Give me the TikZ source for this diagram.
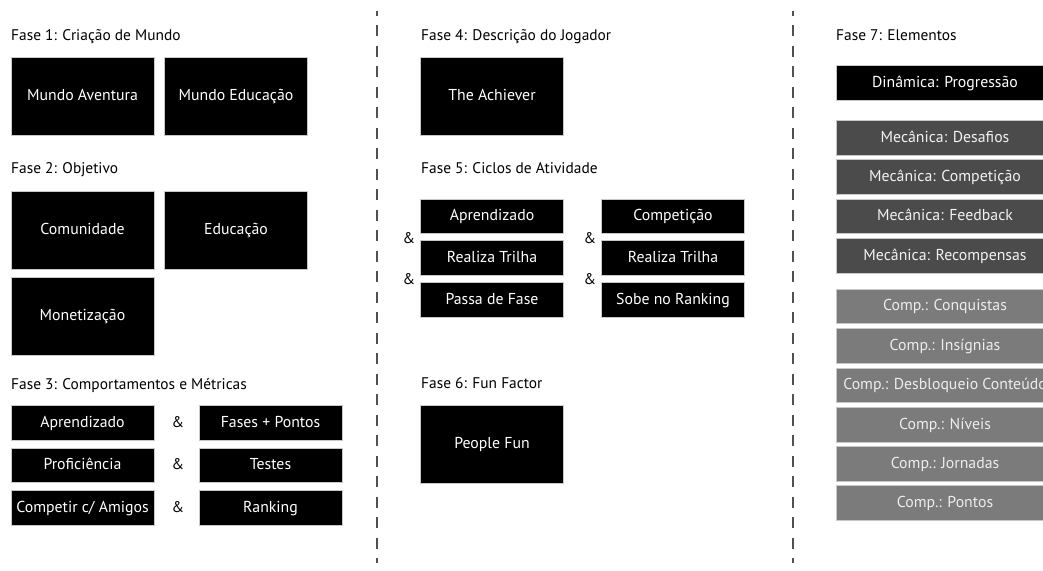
\documentclass[tikz,border=0pt]{standalone}
\usepackage{fontspec}
\setmainfont{PT Sans}
\definecolor{mecgray}{HTML}{4B4B4B}
\definecolor{compgray}{HTML}{7B7B7B}
\definecolor{edgegray}{HTML}{C8C8C8}
\definecolor{divgray}{HTML}{505050}
\tikzset{
  phase/.style={anchor=base west, inner sep=0pt, font=\fontsize{15.4}{18}\selectfont, text=black},
  blackbox/.style={fill=black, draw=edgegray, line width=0.7pt, text=white, inner sep=0pt,
    font=\fontsize{15.8}{18}\selectfont, minimum width=143pt, text height=11pt, text depth=3pt},
  bigbox/.style={blackbox, minimum height=78pt},
  slimbox/.style={blackbox, minimum height=34.5pt},
  mecbox/.style={slimbox, fill=mecgray, minimum width=218pt, text=white!95!black},
  compbox/.style={slimbox, fill=compgray, minimum width=218pt, text=white!93!black},
  dynbox/.style={slimbox, minimum width=218pt},
  amp/.style={inner sep=0pt, font=\fontsize{15.4}{18}\selectfont, text height=11pt, text depth=3pt},
  divider/.style={draw=divgray, line width=1.5pt, dash pattern=on 11pt off 9.5pt, dash phase=6.5pt}
}
\begin{document}
\begin{tikzpicture}[x=1pt,y=-1pt]
\useasboundingbox (0,0) rectangle (1043,570);

% column dividers
\coordinate (d1top) at (377,11);
\coordinate (d1bot) at (377,563);
\coordinate (d2top) at (793,11);
\coordinate (d2bot) at (793,563);
\draw[divider] (d1top) -- (d1bot);
\draw[divider] (d2top) -- (d2bot);

% Fase 1
\node[phase] (f1) at (11,40) {Fase 1: Criação de Mundo};
\node[bigbox] (aventura) at (82.5,96) {Mundo Aventura};
\node[bigbox] (educmundo) at (236,96) {Mundo Educação};

% Fase 2
\node[phase] (f2) at (11,173.5) {Fase 2: Objetivo};
\node[bigbox] (comunidade) at (82.5,230) {Comunidade};
\node[bigbox] (educacao) at (236,230) {Educação};
\node[bigbox] (monetizacao) at (82.5,316) {Monetização};

% Fase 3
\node[phase] (f3) at (11,389) {Fase 3: Comportamentos e Métricas};
\node[slimbox] (c1) at (82.5,423) {Aprendizado};
\node[slimbox] (c2) at (82.5,465.5) {Proficiência};
\node[slimbox] (c3) at (82.5,508) {Competir c/ Amigos};
\node[slimbox] (m1) at (270.5,423) {Fases + Pontos};
\node[slimbox] (m2) at (270.5,465.5) {Testes};
\node[slimbox] (m3) at (270.5,508) {Ranking};
\node[amp] (a31) at (178,423) {\&};
\node[amp] (a32) at (178,465.5) {\&};
\node[amp] (a33) at (178,508) {\&};

% Fase 4
\node[phase] (f4) at (421,40) {Fase 4: Descrição do Jogador};
\node[bigbox] (achiever) at (492,96) {The Achiever};

% Fase 5
\node[phase] (f5) at (421,173) {Fase 5: Ciclos de Atividade};
\node[slimbox] (l1) at (492,216.5) {Aprendizado};
\node[slimbox] (l2) at (492,258) {Realiza Trilha};
\node[slimbox] (l3) at (492,300) {Passa de Fase};
\node[slimbox] (r1) at (673,216.5) {Competição};
\node[slimbox] (r2) at (673,258) {Realiza Trilha};
\node[slimbox] (r3) at (673,300) {Sobe no Ranking};
\node[amp] (a51) at (409,239) {\&};
\node[amp] (a52) at (409,280) {\&};
\node[amp] (a53) at (590,239) {\&};
\node[amp] (a54) at (590,280) {\&};

% Fase 6
\node[phase] (f6) at (421,388) {Fase 6: Fun Factor};
\node[bigbox] (peoplefun) at (492,444.5) {People Fun};

% Fase 7
\node[phase] (f7) at (836,40) {Fase 7: Elementos};
\node[dynbox] (din) at (945,83) {Dinâmica: Progressão};
\node[mecbox] (mec1) at (945,138) {Mecânica: Desafios};
\node[mecbox] (mec2) at (945,177) {Mecânica: Competição};
\node[mecbox] (mec3) at (945,216.5) {Mecânica: Feedback};
\node[mecbox] (mec4) at (945,256) {Mecânica: Recompensas};
\node[compbox] (cp1) at (945,306.5) {Comp.: Conquistas};
\node[compbox] (cp2) at (945,346) {Comp.: Insígnias};
\node[compbox] (cp3) at (945,385.5) {Comp.: Desbloqueio Conteúdo};
\node[compbox] (cp4) at (945,425) {Comp.: Níveis};
\node[compbox] (cp5) at (945,464) {Comp.: Jornadas};
\node[compbox] (cp6) at (945,503) {Comp.: Pontos};
\end{tikzpicture}
\end{document}
